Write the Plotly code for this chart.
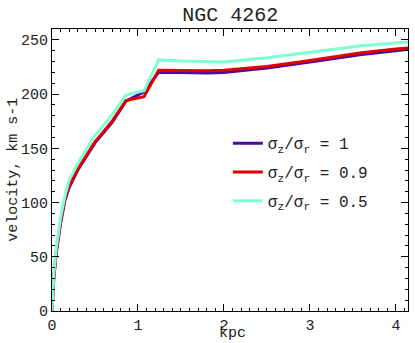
import plotly.graph_objects as go

r_kpc = [0, 0.02, 0.05, 0.1, 0.15, 0.2, 0.3, 0.5, 0.7, 0.86, 1.07, 1.24,
         1.5, 1.8, 2.0, 2.5, 3.0, 3.5, 3.6, 4.0, 4.2]
v_s10 = [0, 29, 54, 81, 102, 114, 130, 155, 174, 193.5, 202, 220,
         219.8, 219.5, 220, 224, 229.5, 235.5, 236.5, 240, 242]
v_s09 = [0, 30, 55, 82, 103, 115, 131, 156, 175, 194, 197.5, 222,
         221.8, 221.5, 222, 225.5, 231, 237, 238, 241.5, 243]
v_s05 = [0, 33, 58, 86, 106, 121, 136, 162, 181, 199, 203, 231.5,
         230.5, 229.5, 229.5, 233.5, 238.5, 243.5, 244.5, 247, 248.5]

names = ["σ<sub>z</sub>/σ<sub>r</sub> = 1",
         "σ<sub>z</sub>/σ<sub>r</sub> = 0.9",
         "σ<sub>z</sub>/σ<sub>r</sub> = 0.5"]
colors = ["#4a0aa0", "#e00000", "#7fffd4"]
series = [v_s10, v_s09, v_s05]

FONT = "Liberation Mono, Courier New, monospace"
TXT = "#222"

fig = go.Figure()
for i, (v, n, c) in enumerate(zip(series, names, colors)):
    fig.add_trace(go.Scatter(x=r_kpc, y=v, mode="lines", name=n,
                             line=dict(color=c, width=3),
                             legendgroup=str(i)))

axis_common = dict(
    showline=True, linecolor="black", linewidth=1, mirror="allticks",
    ticks="inside", ticklen=7, tickcolor="black", showgrid=False,
    zeroline=False, automargin=False,
    tickfont=dict(family=FONT, size=15, color=TXT),
)
fig.update_xaxes(range=[0, 4.14], dtick=1, tick0=0,
                 minor=dict(ticks="inside", ticklen=3, dtick=0.1, tickcolor="black", showgrid=False),
                 **axis_common)
fig.update_yaxes(range=[0, 260], dtick=50, tick0=0,
                 minor=dict(ticks="inside", ticklen=3, dtick=10, tickcolor="black", showgrid=False),
                 **axis_common)

fig.add_annotation(text="kpc", xref="paper", yref="paper", x=0.508, y=-0.118,
                   xanchor="center", yanchor="bottom", showarrow=False,
                   font=dict(family=FONT, size=15, color=TXT))
fig.add_annotation(text="velocity, km s-1", xref="paper", yref="paper", x=-0.11, y=0.5,
                   xanchor="center", yanchor="middle", textangle=-90, showarrow=False,
                   font=dict(family=FONT, size=15, color=TXT))

fig.update_layout(
    width=415, height=343,
    margin=dict(l=52, r=7, t=29, b=32),
    paper_bgcolor="white", plot_bgcolor="white",
    title=dict(text="NGC 4262", x=0.555, xanchor="center", y=0.96, yanchor="middle",
               font=dict(family=FONT, size=20, color=TXT)),
    legend=dict(x=0.494, y=0.655, xanchor="left", yanchor="top",
                bgcolor="rgba(0,0,0,0)", font=dict(family=FONT, size=16, color=TXT),
                tracegroupgap=5, itemwidth=30),
    showlegend=True,
)

fig.write_html("out.html", config={"displayModeBar": False},
               post_script="document.body.style.margin='0';")
